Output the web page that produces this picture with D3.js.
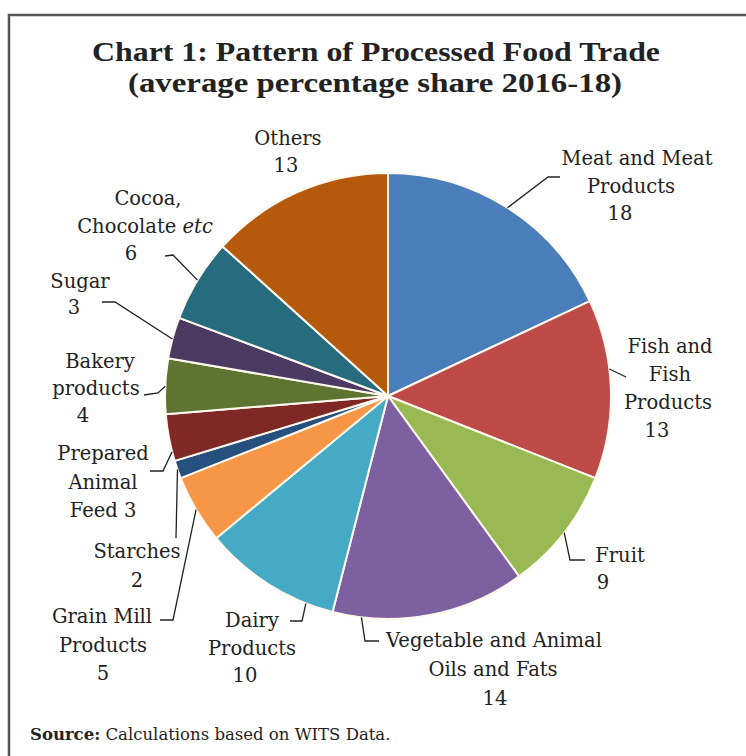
<!DOCTYPE html>
<html>
<head>
<meta charset="utf-8">
<script src="https://cdn.jsdelivr.net/npm/d3@7/dist/d3.min.js"></script>
<style>
  html, body { margin: 0; padding: 0; background: #fff; }
  svg { display: block; }
</style>
</head>
<body>
<svg id="chart" width="746" height="756"></svg>
<script>
// ---------------- DATA ----------------
const titleLines = ["Chart 1: Pattern of Processed Food Trade", "(average percentage share 2016-18)"];
const categories = [
  "Meat and Meat Products", "Fish and Fish Products", "Fruit", "Vegetable and Animal Oils and Fats",
  "Dairy Products", "Grain Mill Products", "Starches", "Prepared Animal Feed",
  "Bakery products", "Sugar", "Cocoa, Chocolate etc", "Others"
];
// slice shares (per cent)
const shares = [18, 13, 9, 14, 10, 5, 1.3, 3.4, 4, 3, 6, 13.3];
// numbers printed on the labels
const labelValues = ["18", "13", "9", "14", "10", "5", "2", "3", "4", "3", "6", "13"];
// label text lines ({v} marks where the value goes, *...* is italic)
const labelText = [
  ["Meat and Meat", "Products", "{v}"],
  ["Fish and", "Fish", "Products", "{v}"],
  ["Fruit", "{v}"],
  ["Vegetable and Animal", "Oils and Fats", "{v}"],
  ["Dairy", "Products", "{v}"],
  ["Grain Mill", "Products", "{v}"],
  ["Starches", "{v}"],
  ["Prepared", "Animal", "Feed {v}"],
  ["Bakery", "products", "{v}"],
  ["Sugar", "{v}"],
  ["Cocoa,", "Chocolate *etc*", "{v}"],
  ["Others", "{v}"]
];
const sourceBold = "Source:";
const sourceText = " Calculations based on WITS Data.";

// ---------------- STYLE / LAYOUT ----------------
const colors = ["#4a7ebb", "#be4b48", "#98b954", "#7d60a0", "#46aac5", "#f79646",
                "#25507f", "#7f2826", "#5e7532", "#4c3a62", "#276b7e", "#b55a0c"];
const cx = 388, cy = 396, R = 223;
const titleLayout = [{ x: 376, y: 61, w: 568 }, { x: 375, y: 92, w: 494 }];
// per label: x centres for each line, first baseline, line height, leader (t within slice, elbow points)
const labelLayout = [
  { xs: [637, 631, 620], y: 165, lh: 27.5, t: 0.5, pts: [[548, 177], [560, 177]] },
  { xs: [670, 670, 668, 657], y: 353, lh: 28, t: 0.39, pts: [[626, 377]] },
  { xs: [620, 603], y: 562, lh: 27, t: 0.5, pts: [[570, 560], [585, 560]] },
  { xs: [494, 493, 495], y: 647, lh: 29, t: 0.85, pts: [[365, 641], [379, 641]] },
  { xs: [252, 252, 245], y: 627, lh: 27.5, t: 0.2, pts: [[302, 621], [290, 621]] },
  { xs: [102, 103, 103], y: 623, lh: 28.5, t: 0.5, pts: [[173, 620], [160, 620]] },
  { xs: [137, 137], y: 558, lh: 29, t: 0.5, pts: [[176, 538]] },
  { xs: [103, 103, 103], y: 460, lh: 28.5, t: 0.2, pts: [[163, 471], [150, 471]] },
  { xs: [100, 96, 83], y: 368, lh: 27, t: 0.5, pts: [[158, 393], [144, 395]] },
  { xs: [80, 74], y: 288, lh: 26, t: 0.47, pts: [[115, 302], [102, 302]] },
  { xs: [148, 145, 131], y: 205, lh: 27.5, t: 0.5, pts: [[173, 255], [165, 256]] },
  { xs: [288, 286], y: 145, lh: 27, t: null, pts: [] }
];
const labelFont = "'DejaVu Serif', serif";

const svg = d3.select("#chart");

// frame
svg.append("rect").attr("x", 9).attr("y", 15).attr("width", 760).attr("height", 760)
  .attr("fill", "#fff").attr("stroke", "#555").attr("stroke-width", 2.5);

// title
svg.append("g").selectAll("text").data(titleLines).join("text")
  .attr("x", (d, i) => titleLayout[i].x).attr("y", (d, i) => titleLayout[i].y)
  .attr("text-anchor", "middle")
  .attr("textLength", (d, i) => titleLayout[i].w)
  .attr("lengthAdjust", "spacingAndGlyphs")
  .attr("font-family", "'Liberation Serif', serif")
  .attr("font-weight", "bold")
  .attr("font-size", 28)
  .attr("fill", "#222")
  .text(d => d);

// pie
const pie = d3.pie().sort(null).value(d => d)
  .startAngle(0).endAngle(2 * Math.PI);
const arcs = pie(shares);
const arc = d3.arc().innerRadius(0).outerRadius(R);

const g = svg.append("g").attr("transform", `translate(${cx},${cy})`);
g.selectAll("path").data(arcs).join("path")
  .attr("d", arc)
  .attr("fill", (d, i) => colors[i])
  .attr("stroke", "#fff8ee")
  .attr("stroke-width", 2)
  .attr("stroke-linejoin", "round");

// leader lines
const leaders = svg.append("g");
arcs.forEach((a, i) => {
  const L = labelLayout[i];
  if (L.t === null) return;
  const ang = a.startAngle + (a.endAngle - a.startAngle) * L.t;
  const start = [cx + R * Math.sin(ang), cy - R * Math.cos(ang)];
  const pts = [start, ...L.pts];
  leaders.append("path")
    .attr("d", d3.line()(pts))
    .attr("fill", "none")
    .attr("stroke", "#222")
    .attr("stroke-width", 1.3);
});

// labels
const lg = svg.append("g")
  .attr("font-family", labelFont)
  .attr("font-size", 19.5)
  .attr("fill", "#222");
labelText.forEach((lines, i) => {
  const L = labelLayout[i];
  lines.forEach((ln, j) => {
    const s = ln.replace("{v}", labelValues[i]);
    const t = lg.append("text")
      .attr("x", L.xs[j]).attr("y", L.y + j * L.lh)
      .attr("text-anchor", "middle");
    const parts = s.split("*");
    parts.forEach((p, k) => {
      if (!p) return;
      t.append("tspan").attr("font-style", k % 2 ? "italic" : "normal").text(p);
    });
  });
});

// source
const src = svg.append("text").attr("x", 30).attr("y", 740)
  .attr("font-family", labelFont).attr("font-size", 16.5).attr("fill", "#222");
src.append("tspan").attr("font-weight", "bold").text(sourceBold);
src.append("tspan").text(sourceText);
</script>
</body>
</html>
